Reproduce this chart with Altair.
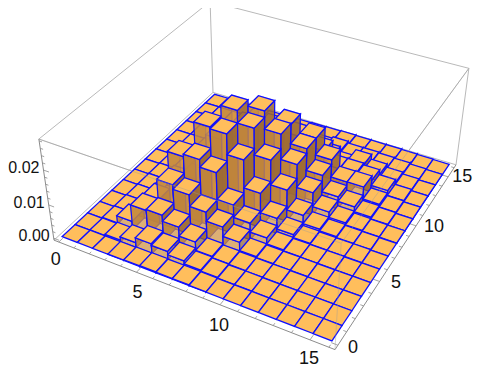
import numpy as np
import altair as alt

# bar heights in thousandths; rows: x bins (width 1), columns: y bins (width 16/14)
H = [
 [0,0,0,0,0,0,0,0,0,0,0,0,0,0],
 [0,.1,.3,.3,.2,.2,.2,.2,.1,.1,0,0,0,0],
 [0,.5,2.5,1.5,1,1,1,.6,.4,.3,.1,0,0,0],
 [.1,1.5,7.5,7,3,3,2,1,.6,.3,.1,0,0,0],
 [.2,3,7.8,13.2,18,8,8,3,2,.7,.3,.1,0,0],
 [.3,2.5,6,11.9,18.7,24.7,18,12,5,2,.8,.3,.1,0],
 [.2,1.5,3.3,8.5,16.5,24.2,27.7,20,12,5,2,.8,.3,.1],
 [.2,.6,.8,5.8,8.7,18.4,24.2,26,18,10,4,1.5,.5,.2],
 [.1,.3,.4,3,5,10.3,16.6,20.9,20.6,14,6,2.5,1,.3],
 [0,.1,.2,.5,2.3,4.5,9.4,13.6,15,15,8,3,1.5,.4],
 [0,.1,.1,.2,.5,1.3,3.5,6.8,8.6,10,4,1.5,1,.3],
 [0,0,.1,.1,.2,.4,1,2.6,3.7,4.8,4,3.5,1,.3],
 [0,0,0,.1,.1,.2,.5,1,2.3,4.9,3.5,2,.8,.3],
 [0,0,0,0,.1,.1,.2,.4,.8,1.2,2,1,.6,.2],
 [0,0,0,0,0,.1,.1,.2,.3,.4,.5,.4,.3,.1],
 [0,0,0,0,0,0,0,.1,.1,.1,.1,.1,.1,0],
]
x_ticks = [0, 5, 10, 15]
y_ticks = [0, 5, 10, 15]
z_ticks = [0.00, 0.01, 0.02]
x_range = (-0.32, 16.32)
y_range = (-0.32, 16.32)
z_range = (-0.0006, 0.0285)
x_bin = 1.0
y_bin = 16/14

cal_world = [(0,0,0),(1,0,0),(1,1,0),(0,1,0),(0,0,1),(1,0,1),(1,1,1),(0,1,1)]
cal_pix = [(54,240),(335,350),(456,164),(213,93),(39,139),(341,243),(469,69),(210,1)]
A = []
for (X,Y,Z),(u,v) in zip(cal_world, cal_pix):
    A.append([X,Y,Z,1,0,0,0,0,-u*X,-u*Y,-u*Z,-u])
    A.append([0,0,0,0,X,Y,Z,1,-v*X,-v*Y,-v*Z,-v])
P = np.linalg.svd(np.array(A,float))[2][-1].reshape(3,4)

def proj(x,y,z):
    w = np.array([(x-x_range[0])/(x_range[1]-x_range[0]),
                  (y-y_range[0])/(y_range[1]-y_range[0]),
                  (z-z_range[0])/(z_range[1]-z_range[0]),1.0])
    p = P@w
    return [float(p[0]/p[2]-8), float(p[1]/p[2]-8)]

features = []
def poly(pts, fill, stroke, sw, fop, sop=1.0):
    ring = [proj(*p) for p in pts]
    ring.append(ring[0])
    features.append({"type":"Feature","geometry":{"type":"Polygon","coordinates":[ring]},
        "properties":{"fill":fill,"stroke":stroke,"sw":sw,"fop":fop,"sop":sop}})
def line(pts, stroke, sw, sop=1.0):
    features.append({"type":"Feature","geometry":{"type":"LineString","coordinates":[proj(*p) for p in pts]},
        "properties":{"fill":"none","stroke":stroke,"sw":sw,"fop":0,"sop":sop}})

x0,x1=x_range; y0,y1=y_range; z0,z1=z_range
BOX="#b9b9b9"
for a,b in [((x0,y0,z1),(x0,y1,z1)),((x0,y1,z1),(x1,y1,z1)),((x0,y0,z0),(x0,y1,z0)),
            ((x0,y1,z0),(x0,y1,z1)),((x1,y1,z0),(x1,y1,z1)),((x0,y1,z0),(x1,y1,z0)),
            ((x0,y0,z1),(x1,y0,z1)),((x1,y0,z1),(x1,y1,z1))]:
    line([a,b],BOX,1)
GR="#8c8c8c"
line([(x0,y0,z0),(x1,y0,z0)],GR,1)
line([(x1,y0,z0),(x1,y1,z0)],GR,1)
line([(x0,y0,z0),(x0,y0,z1)],GR,1)
for i in range(17):
    L=0.35 if i%5==0 else 0.18
    line([(i,y0,z0),(i,y0+L,z0)],GR,0.8)
    line([(x1,i,z0),(x1-L,i,z0)],GR,0.8)
for k in range(0,15):
    v=k*0.002
    L=0.35 if k%5==0 else 0.18
    line([(x0,y0,v),(x0+L,y0,v)],GR,0.8)

TOP="#FFBE5C"; SL="#CF9040"; SR="#8F6030"; EDGE="#0F0FFF"
ny=len(H[0])
for i,row in enumerate(H):
    for j in range(ny-1,-1,-1):
        h=row[j]/1000.0
        X,Xb=i*x_bin,(i+1)*x_bin; Y,Yb=j*y_bin,(j+1)*y_bin
        if h>0:
            poly([(X,Y,0),(X,Yb,0),(X,Yb,h),(X,Y,h)],SR,EDGE,0.7,0.55,0.45)
            poly([(X,Yb,0),(Xb,Yb,0),(Xb,Yb,h),(X,Yb,h)],SL,EDGE,0.7,0.55,0.45)
            poly([(X,Y,0),(Xb,Y,0),(Xb,Y,h),(X,Y,h)],SL,EDGE,1.2,0.72)
            poly([(Xb,Y,0),(Xb,Yb,0),(Xb,Yb,h),(Xb,Y,h)],SR,EDGE,1.2,0.72)
        poly([(X,Y,h),(Xb,Y,h),(Xb,Yb,h),(X,Yb,h)],TOP,EDGE,1.3,1)
for a,b in [((x0,y0,z1),(x1,y0,z1)),((x1,y0,z1),(x1,y1,z1)),((x1,y0,z0),(x1,y0,z1))]:
    line([a,b],"#9a9a9a",1,0.4)

tx=[]
for v,dx,dy in zip(x_ticks,[-3,1,-1,-1],[18,21,21,19]):
    p=proj(v,y0,z0); tx.append({"lon":p[0]+dx,"lat":p[1]+dy,"t":str(v)})
for v,dx in zip(y_ticks,[15,16.5,18,14]):
    p=proj(x1,v,z0); tx.append({"lon":p[0]+dx,"lat":p[1]+3-v*0.2,"t":str(v)})
tz=[]
for v in z_ticks:
    p=proj(x0,y0,v); tz.append({"lon":p[0]-4,"lat":p[1]-2,"t":f"{v:.2f}"})

base=alt.Chart(alt.Data(values=features)).mark_geoshape().encode(
    fill=alt.Fill("properties.fill:N",scale=None),
    stroke=alt.Stroke("properties.stroke:N",scale=None),
    strokeWidth=alt.StrokeWidth("properties.sw:Q",scale=None),
    fillOpacity=alt.FillOpacity("properties.fop:Q",scale=None),
    strokeOpacity=alt.StrokeOpacity("properties.sop:Q",scale=None),
)
text=alt.Chart(alt.Data(values=tx)).mark_text(font="Liberation Sans",fontSize=18,color="#111111").encode(
    longitude="lon:Q",latitude="lat:Q",text="t:N")
ztext=alt.Chart(alt.Data(values=tz)).mark_text(font="Liberation Sans",fontSize=16,color="#111111",align="right").encode(
    longitude="lon:Q",latitude="lat:Q",text="t:N")
chart=alt.layer(base,text,ztext).project(type="identity",scale=1,translate=[0,0]).properties(
    width=466,height=359,padding=0,autosize=alt.AutoSizeParams(type="none")
).configure_view(stroke=None)
chart.save("out.html",embed_options={"renderer":"svg","actions":False})
